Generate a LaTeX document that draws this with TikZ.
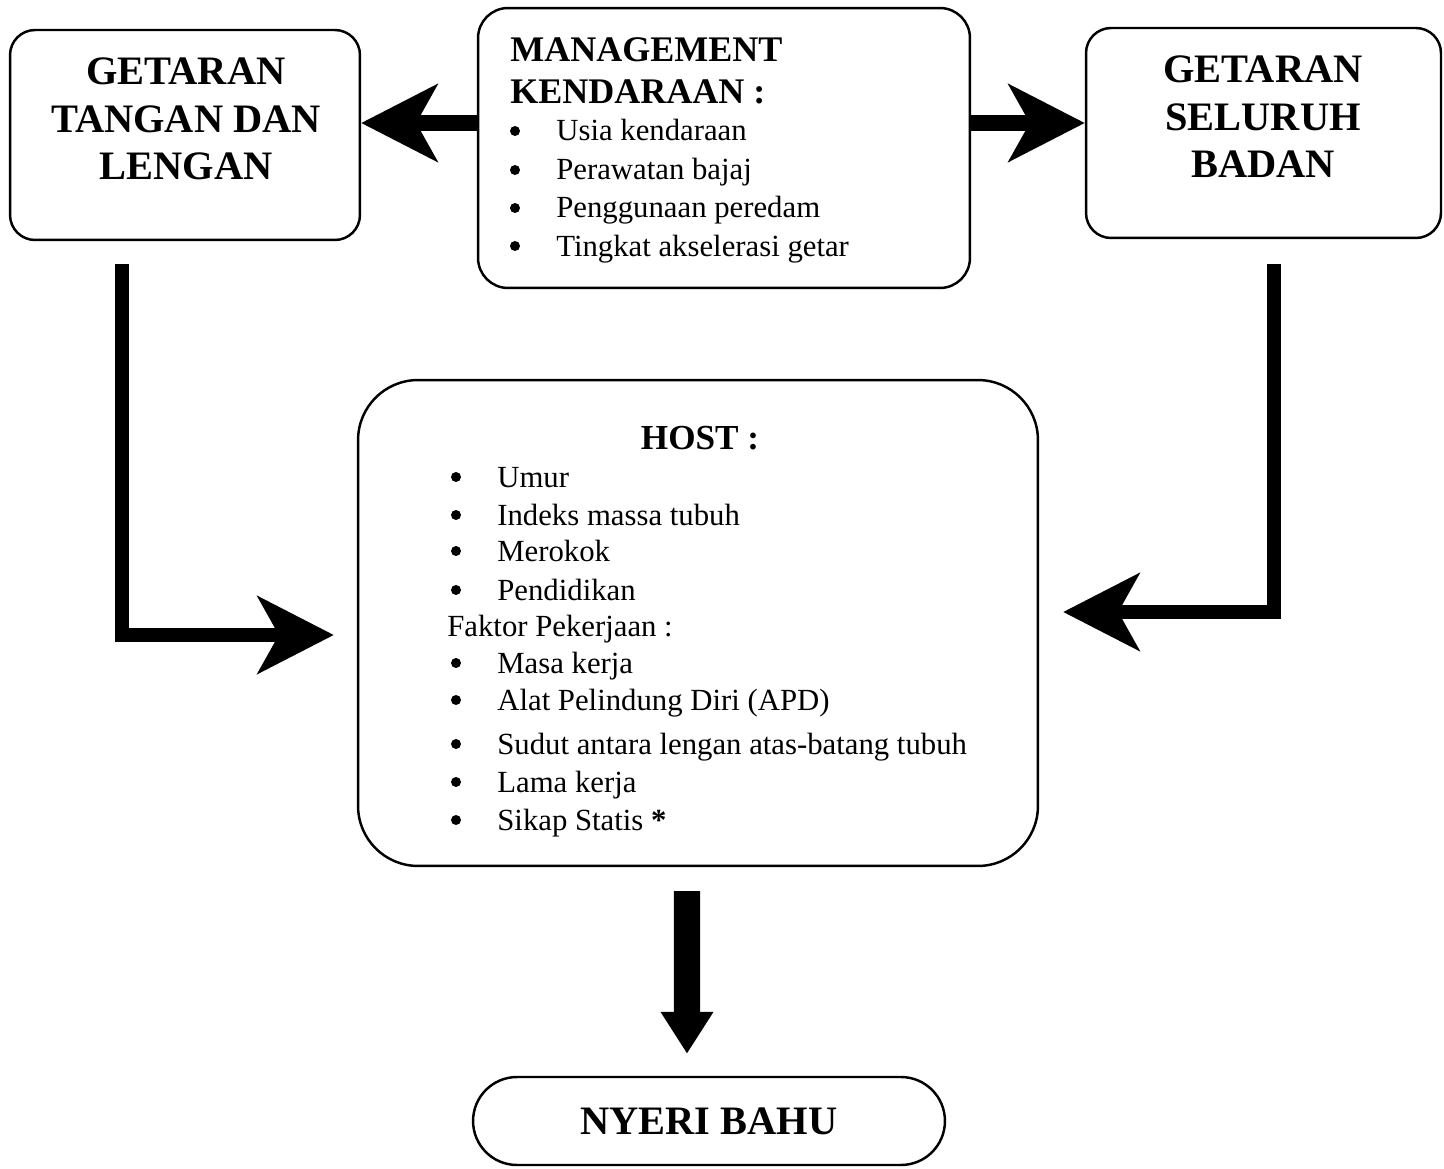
\documentclass[tikz,border=0pt]{standalone}
\usepackage{fontspec}
\setmainfont{Liberation Serif}
\usetikzlibrary{arrows.meta}
\tikzset{
    rounded-box/.style = {draw=black, line width=1.4pt, rectangle, rounded corners=0.5cm, inner sep=0pt},
    head-text/.style = {anchor=base, inner sep=0pt, font=\fontsize{23}{27}\selectfont\bfseries},
    title-text/.style = {anchor=base west, inner sep=0pt, font=\fontsize{20.5}{24}\selectfont\bfseries},
    list-text/.style = {anchor=base west, inner sep=0pt, font=\fontsize{17.5}{21}\selectfont},
    list-dot/.style = {circle, fill=black, inner sep=0pt, minimum size=0.2cm},
    fat-arrow/.style = {line width=9pt, -{Stealth[length=1.52cm, width=1.54cm, inset=0.42cm]}},
    down-arrow/.style = {line width=15pt, -{Triangle[length=0.84cm, width=1cm]}},
}

\begin{document}
\begin{tikzpicture}[x=0.02cm, y=-0.02cm]
\useasboundingbox (0,0) rectangle (1444,1169);

\node[rounded-box, minimum width=7cm, minimum height=4.2cm] (hand-box) at (185,135) {};
\node[rounded-box, rounded corners=0.6cm, minimum width=9.84cm, minimum height=5.6cm] (vehicle-box) at (724,148) {};
\node[rounded-box, minimum width=7.1cm, minimum height=4.2cm] (body-box) at (1263.5,133) {};
\node[rounded-box, rounded corners=1.2cm, minimum width=13.6cm, minimum height=9.72cm] (host-box) at (698,623) {};
\node[rounded-box, rounded corners=0.88cm, minimum width=9.44cm, minimum height=1.76cm,
      font=\fontsize{23}{27}\selectfont\bfseries] (pain) at (709,1121) {NYERI BAHU};

\foreach \y/\t [count=\i] in {85/GETARAN, 133/TANGAN DAN, 180/LENGAN}
    \node[head-text] (hand-\i) at (186,\y) {\t};
\foreach \y/\t [count=\i] in {83/GETARAN, 131/SELURUH, 178/BADAN}
    \node[head-text] (body-\i) at (1263,\y) {\t};

\node[title-text] (vehicle-title) at (510,62) {MANAGEMENT};
\node[title-text] (vehicle-sub) at (510,104) {KENDARAAN :};
\foreach \y/\t [count=\i] in {141/Usia kendaraan, 180/Perawatan bajaj, 218/Penggunaan peredam, 256/Tingkat akselerasi getar} {
    \node[list-dot] (vehicle-dot-\i) at (515,\y-10) {};
    \node[list-text] (vehicle-item-\i) at (556,\y) {\t};
}

\node[title-text, anchor=base, font=\fontsize{20}{24}\selectfont\bfseries] (host-title) at (700,449) {HOST :};
\foreach \y/\t [count=\i] in {487/Umur, 525/Indeks massa tubuh, 561/Merokok, 600/Pendidikan} {
    \node[list-dot] (host-dot-\i) at (456,\y-10) {};
    \node[list-text] (host-item-\i) at (497,\y) {\t};
}
\node[list-text] (work-title) at (447,636) {Faktor Pekerjaan :};
\foreach \y/\t [count=\i] in {673/Masa kerja, 710/Alat Pelindung Diri (APD), 754/Sudut antara lengan atas-batang tubuh, 792/Lama kerja, 830/Sikap Statis \textbf{*}} {
    \node[list-dot] (work-dot-\i) at (456,\y-10) {};
    \node[list-text] (work-item-\i) at (497,\y) {\t};
}

\draw[fat-arrow] ([yshift=0.5cm]vehicle-box.west) -- ([yshift=0.24cm]hand-box.east);
\draw[fat-arrow] ([yshift=0.5cm]vehicle-box.east) -- ([yshift=0.2cm]body-box.west);
\draw[fat-arrow, line width=8.5pt] ([xshift=-1.26cm, yshift=-0.46cm]hand-box.south) |- ([xshift=-0.46cm, yshift=-0.24cm]host-box.west);
\draw[fat-arrow, line width=8.5pt] ([xshift=0.21cm, yshift=-0.5cm]body-box.south) |- ([xshift=0.48cm, yshift=0.22cm]host-box.east);
\draw[down-arrow] ([xshift=-0.22cm, yshift=-0.48cm]host-box.south) -- ([xshift=-0.44cm, yshift=0.44cm]pain.north);
\end{tikzpicture}
\end{document}
